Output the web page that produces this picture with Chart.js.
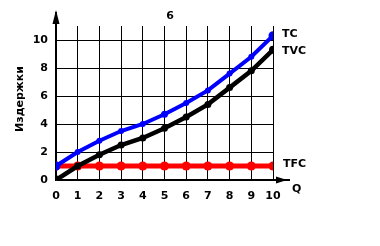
<!DOCTYPE html>
<html>
<head>
<meta charset="utf-8">
<script src="https://cdn.jsdelivr.net/npm/chart.js@4/dist/chart.umd.min.js"></script>
<style>
  html, body { margin: 0; padding: 0; background: #fff; }
  #wrap { width: 380px; height: 246px; }
</style>
</head>
<body>
<div id="wrap"><canvas id="c"></canvas></div>
<script>
// Data
const quantity = [0, 1, 2, 3, 4, 5, 6, 7, 8, 9, 10];
const tcValues = [1, 2, 2.8, 3.5, 4, 4.7, 5.5, 6.4, 7.6, 8.8, 10.3];
const tvcValues = [0, 1, 1.8, 2.5, 3, 3.7, 4.5, 5.4, 6.6, 7.8, 9.3];
const tfcValues = [1, 1, 1, 1, 1, 1, 1, 1, 1, 1, 1];
const yTickValues = [0, 2, 4, 6, 8, 10];

const FONT = 'DejaVu Sans';

function toPoints(values) {
  return quantity.map((q, i) => ({ x: q, y: values[i] }));
}

// Draws title, curve labels, axis arrows and y axis name
const annotations = {
  id: 'annotations',
  afterDraw(chart) {
    const ctx = chart.ctx;
    const xs = chart.scales.x;
    const ys = chart.scales.y;
    const area = chart.chartArea;
    ctx.save();
    ctx.fillStyle = '#000';
    ctx.strokeStyle = '#000';

    // y axis arrow
    const ax = xs.getPixelForValue(0);
    ctx.lineWidth = 2;
    ctx.beginPath();
    ctx.moveTo(ax, area.top);
    ctx.lineTo(ax, 12);
    ctx.stroke();
    ctx.beginPath();
    ctx.moveTo(ax, 10);
    ctx.lineTo(ax - 3.5, 24);
    ctx.lineTo(ax + 3.5, 24);
    ctx.closePath();
    ctx.fill();

    // x axis arrow
    const ay = ys.getPixelForValue(0);
    ctx.beginPath();
    ctx.moveTo(area.right, ay);
    ctx.lineTo(290, ay);
    ctx.stroke();
    ctx.beginPath();
    ctx.moveTo(276, ay - 3.5);
    ctx.lineTo(287, ay);
    ctx.lineTo(276, ay + 3.5);
    ctx.closePath();
    ctx.fill();

    ctx.font = 'bold 11px ' + FONT;
    ctx.textBaseline = 'middle';
    ctx.textAlign = 'left';
    const xr = xs.getPixelForValue(10);
    ctx.fillText('TC', xr + 9, ys.getPixelForValue(tcValues[10]) - 2);
    ctx.fillText('TVC', xr + 9, ys.getPixelForValue(tvcValues[10]) + 1);
    ctx.fillText('TFC', xr + 10, ys.getPixelForValue(tfcValues[10]) - 2);
    ctx.fillText('Q', 292, 189);

    ctx.textAlign = 'center';
    ctx.fillText('6', 170, 16);

    ctx.translate(20, 99);
    ctx.rotate(-Math.PI / 2);
    ctx.fillText('Издержки', 0, 0);
    ctx.restore();
  }
};

new Chart(document.getElementById('c'), {
  type: 'line',
  data: {
    datasets: [
      {
        label: 'TC',
        data: toPoints(tcValues),
        borderColor: '#0000ff',
        backgroundColor: '#0000ff',
        borderWidth: 4,
        pointRadius: [4.5, 3, 3, 3, 3, 3.5, 3, 3, 3, 3, 4.5],
        pointBorderWidth: 0,
        tension: 0
      },
      {
        label: 'TVC',
        data: toPoints(tvcValues),
        borderColor: '#000',
        backgroundColor: '#000',
        borderWidth: 4.5,
        pointRadius: [4.5, 3.5, 3.5, 3.5, 3.5, 3.5, 3.5, 3.5, 3.5, 3.5, 4],
        pointBorderWidth: 0,
        tension: 0
      },
      {
        label: 'TFC',
        data: toPoints(tfcValues),
        borderColor: '#ff0000',
        backgroundColor: '#ff0000',
        borderWidth: 5,
        pointRadius: 4.5,
        pointBorderWidth: 0,
        tension: 0
      }
    ]
  },
  options: {
    responsive: true,
    maintainAspectRatio: false,
    animation: false,
    layout: { padding: { left: 0, right: 107, top: 26, bottom: 0 } },
    plugins: {
      legend: { display: false },
      tooltip: { enabled: false }
    },
    scales: {
      x: {
        type: 'linear',
        min: 0,
        max: 10,
        afterFit: scale => { scale.height = 66; },
        grid: { color: '#000', lineWidth: 1, drawTicks: false },
        border: { color: '#000', width: 1.5 },
        ticks: {
          stepSize: 1,
          padding: 10,
          color: '#000',
          font: { family: FONT, size: 11, weight: 'bold' }
        }
      },
      y: {
        min: 0,
        max: 11,
        afterFit: scale => { scale.width = 56; },
        afterBuildTicks: scale => { scale.ticks = yTickValues.map(v => ({ value: v })); },
        grid: { color: '#000', lineWidth: 1, drawTicks: false },
        border: { color: '#000', width: 1.5 },
        ticks: {
          padding: 8,
          color: '#000',
          font: { family: FONT, size: 11, weight: 'bold' }
        }
      }
    }
  },
  plugins: [annotations]
});
</script>
</body>
</html>
